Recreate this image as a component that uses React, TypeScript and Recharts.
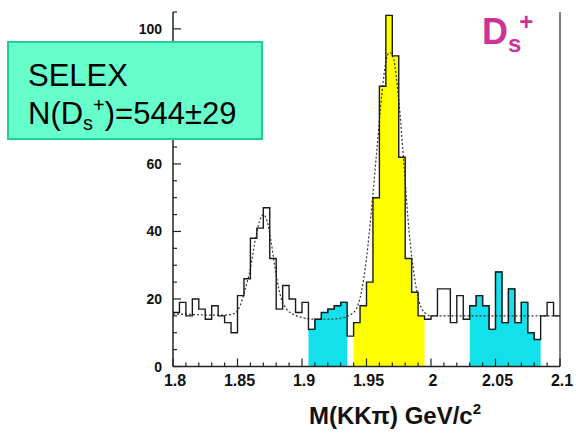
import { ComposedChart, Area, Line, XAxis, YAxis, ReferenceLine } from "recharts";

// M(KKpi) histogram, 5 MeV bins from 1.800 to 2.100 GeV
const binStart = 1.8;
const binWidth = 0.005;
const counts = [
  16, 19, 15, 20, 17, 14, 18, 15, 13, 10,
  21, 26, 38, 41, 47, 32, 17, 24, 20, 16,
  19, 11, 14, 16, 17, 18, 19, 9, 13, 18,
  25, 50, 83, 104, 92, 62, 32, 22, 15, 14,
  15, 23, 23, 13, 21, 14, 18, 21, 18, 11,
  28, 13, 23, 13, 19, 10, 8, 15, 19, 15,
];

// shaded windows
const sidebandLow = [1.905, 1.935];
const signalWindow = [1.94, 1.995];
const sidebandHigh = [2.03, 2.085];

// fit curve
const fitMass = [
  1.8, 1.81, 1.82, 1.83, 1.84, 1.848, 1.852, 1.856, 1.86, 1.864, 1.868, 1.87,
  1.873, 1.876, 1.88, 1.884, 1.888, 1.893, 1.9, 1.91, 1.92, 1.93, 1.936, 1.942,
  1.946, 1.95, 1.954, 1.958, 1.962, 1.966, 1.968, 1.971, 1.975, 1.979, 1.983,
  1.987, 1.991, 1.995, 2.0, 2.02, 2.05, 2.08, 2.1,
];
const fitValue = [
  15.5, 15.5, 15.3, 15.2, 15.2, 15.8, 18, 23, 29, 38, 44, 45,
  43, 37, 27, 20, 17, 15.5, 14.5, 14, 14, 14.3, 15, 17,
  22, 32, 47, 64, 81, 92, 93, 91, 79, 60, 40,
  27, 19, 16, 15, 15, 15, 15, 15,
];

const xMajorTicks = [1.8, 1.85, 1.9, 1.95, 2, 2.05, 2.1];
const xTickLabels = ["1.8", "1.85", "1.9", "1.95", "2", "2.05", "2.1"];
// the 80 label sits under the legend box in the original, so it is left blank
const yMajorTicks = [0, 20, 40, 60, 80, 100];
const yTickLabels = ["0", "20", "40", "60", "", "100"];

const eps = 1e-6;
const nBins = counts.length;

const inWindow = (i: number, win: number[]) => {
  const x = binStart + i * binWidth;
  if (x >= win[0] - eps && x < win[1] - eps) return counts[i];
  if (Math.abs(x - win[1]) < eps) return counts[i - 1];
  return null;
};

const histRows = Array.from({ length: nBins + 1 }, (_, i) => ({
  x: +(binStart + i * binWidth).toFixed(4),
  hist: counts[Math.min(i, nBins - 1)],
  sbLo: inWindow(i, sidebandLow),
  sig: inWindow(i, signalWindow),
  sbHi: inWindow(i, sidebandHigh),
}));

const fitRows = fitMass.map((m, i) => ({ x: m, fit: fitValue[i] }));

const xTicks: number[] = [];
for (let k = 0; k <= 30; k++) xTicks.push(+(1.8 + k * 0.01).toFixed(3));
for (const t of xMajorTicks) if (!xTicks.some((v) => Math.abs(v - t) < eps)) xTicks.push(t);
xTicks.sort((a, b) => a - b);

const yTicks: number[] = [];
for (let v = 0; v <= 105; v += 5) yTicks.push(v);

const font = "'Liberation Sans', Arial, sans-serif";
const axisColor = "#222";

function XTick(props: any) {
  const { x, y, payload } = props;
  const idx = xMajorTicks.findIndex((t) => Math.abs(t - payload.value) < eps);
  const major = idx >= 0;
  return (
    <g>
      <line x1={x} x2={x} y1={y} y2={y - (major ? 8 : 4)} stroke={axisColor} strokeWidth={1.2} />
      {major && (
        <text x={x + 2} y={y + 19} textAnchor="middle" fontSize={16} fontWeight="bold" fontFamily={font} fill="#111">
          {xTickLabels[idx]}
        </text>
      )}
    </g>
  );
}

function YTick(props: any) {
  const { x, y, payload } = props;
  const idx = yMajorTicks.findIndex((t) => Math.abs(t - payload.value) < eps);
  const major = idx >= 0;
  return (
    <g>
      <line x1={x} x2={x + (major ? 8 : 4)} y1={y} y2={y} stroke={axisColor} strokeWidth={1.2} />
      {major && yTickLabels[idx] !== "" && (
        <text x={x - 11} y={y + 5} textAnchor="end" fontSize={14} fontWeight="bold" fontFamily={font} fill="#111">
          {yTickLabels[idx]}
        </text>
      )}
    </g>
  );
}

export default function App() {
  return (
    <div style={{ position: "absolute", left: 0, top: 0, width: 576, height: 436, background: "#fff", fontFamily: font }}>
      <ComposedChart
        width={576}
        height={436}
        data={histRows}
        margin={{ top: 12, right: 16, bottom: 0, left: 0 }}
      >
        <XAxis
          dataKey="x"
          type="number"
          domain={[1.8, 2.1]}
          ticks={xTicks}
          interval={0}
          tick={XTick}
          tickLine={false}
          tickSize={0}
          tickMargin={0}
          height={69.5}
          allowDataOverflow
          axisLine={{ stroke: axisColor, strokeWidth: 1.5 }}
        />
        <YAxis
          type="number"
          domain={[0, 105]}
          ticks={yTicks}
          interval={0}
          tick={YTick}
          tickLine={false}
          tickSize={0}
          tickMargin={0}
          width={173}
          allowDataOverflow
          axisLine={{ stroke: axisColor, strokeWidth: 1.5 }}
        />
        <ReferenceLine x={2.1} stroke="#555" strokeWidth={1.5} />
        <Area
          dataKey="sbLo"
          type="stepAfter"
          fill="#12e0ea"
          fillOpacity={1}
          stroke="#0d6f78"
          strokeWidth={1.2}
          connectNulls={false}
          isAnimationActive={false}
        />
        <Area
          dataKey="sig"
          type="stepAfter"
          fill="#ffff00"
          fillOpacity={1}
          stroke="none"
          connectNulls={false}
          isAnimationActive={false}
        />
        <Area
          dataKey="sbHi"
          type="stepAfter"
          fill="#12e0ea"
          fillOpacity={1}
          stroke="#0d6f78"
          strokeWidth={1.2}
          connectNulls={false}
          isAnimationActive={false}
        />
        <Line
          data={fitRows}
          dataKey="fit"
          type="monotone"
          stroke="#333"
          strokeWidth={1.2}
          strokeDasharray="2 2"
          dot={false}
          isAnimationActive={false}
        />
        <Line
          dataKey="hist"
          type="stepAfter"
          stroke="#1a1a1a"
          strokeWidth={1.4}
          dot={false}
          isAnimationActive={false}
        />
      </ComposedChart>

      {/* legend box */}
      <div
        style={{
          position: "absolute",
          left: 7,
          top: 41,
          width: 252,
          height: 95,
          background: "#66ffcc",
          border: "2px solid #1ccf9c",
          color: "#000",
          fontSize: 31,
          lineHeight: "38px",
          boxSizing: "content-box",
        }}
      >
        <div style={{ position: "absolute", left: 19, top: 14 }}>SELEX</div>
        <div style={{ position: "absolute", left: 19, top: 52, whiteSpace: "nowrap" }}>
          N(D<sub style={{ fontSize: 20, verticalAlign: "-6px", lineHeight: 0 }}>s</sub>
          <sup style={{ fontSize: 20, verticalAlign: "12px", lineHeight: 0 }}>+</sup>)=544±29
        </div>
      </div>

      {/* particle tag */}
      <div
        style={{
          position: "absolute",
          left: 482,
          top: 12,
          color: "#cc3399",
          fontWeight: "bold",
          fontSize: 36,
          lineHeight: "40px",
          whiteSpace: "nowrap",
        }}
      >
        D<sub style={{ fontSize: 24, verticalAlign: "-8px", lineHeight: 0 }}>s</sub>
        <sup style={{ fontSize: 24, verticalAlign: "14px", lineHeight: 0, marginLeft: -2 }}>+</sup>
      </div>

      {/* x axis title */}
      <div
        style={{
          position: "absolute",
          left: 0,
          width: 790,
          top: 402,
          textAlign: "center",
          fontWeight: "bold",
          fontSize: 24,
          lineHeight: "28px",
          color: "#111",
          whiteSpace: "nowrap",
        }}
      >
        M(KKπ) GeV/c<sup style={{ fontSize: 15, verticalAlign: "10px", lineHeight: 0 }}>2</sup>
      </div>
    </div>
  );
}
